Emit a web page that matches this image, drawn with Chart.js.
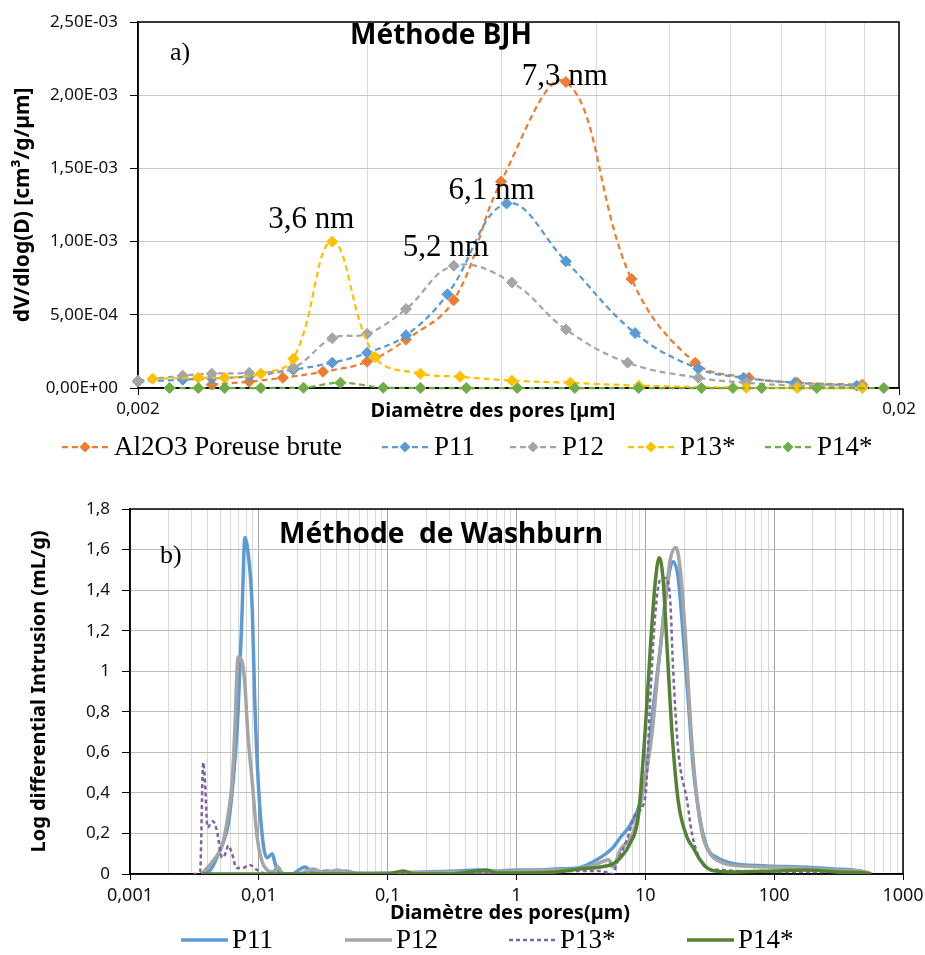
<!DOCTYPE html>
<html>
<head>
<meta charset="utf-8">
<script src="https://cdn.jsdelivr.net/npm/chart.js@4.4.1/dist/chart.umd.min.js"></script>
<style>
  html, body { margin: 0; padding: 0; background: #fff; }
  #wrap { position: relative; width: 925px; height: 955px; }
  .box { position: absolute; left: 0; width: 925px; }
  #boxA { top: 0; height: 470px; }
  #boxB { top: 470px; height: 485px; }
</style>
</head>
<body>
<div id="wrap">
  <div class="box" id="boxA"><canvas id="bjhChart"></canvas></div>
  <div class="box" id="boxB"><canvas id="washChart"></canvas></div>
</div>
<script>
// ---------- a) Méthode BJH : diameter (µm) / dV/dlog(D) (cm3/g/µm)
const bjhAl2O3D = [0.0025, 0.0028, 0.0031, 0.0035, 0.004, 0.0045, 0.0052, 0.006, 0.0073, 0.0089, 0.0108, 0.0127, 0.0147, 0.0179];
const bjhAl2O3V = [2.3e-5, 4.3e-5, 7.0e-5, 1.11e-4, 1.8e-4, 3.3e-4, 6.0e-4, 1.41e-3, 2.09e-3, 7.45e-4, 1.73e-4, 7.0e-5, 3.6e-5, 2.3e-5];

const bjhP11D = [0.002, 0.00229, 0.0025, 0.0028, 0.0032, 0.0036, 0.004, 0.0045, 0.0051, 0.0061, 0.0073, 0.009, 0.0109, 0.0125, 0.0146, 0.0176];
const bjhP11V = [4.3e-5, 5.7e-5, 6.5e-5, 8.0e-5, 1.25e-4, 1.73e-4, 2.4e-4, 3.6e-4, 6.4e-4, 1.26e-3, 8.65e-4, 3.75e-4, 1.32e-4, 7.0e-5, 3.6e-5, 1.6e-5];

const bjhP12D = [0.002, 0.00229, 0.0025, 0.0028, 0.0032, 0.0036, 0.004, 0.0045, 0.0052, 0.0062, 0.0073, 0.0088, 0.0109, 0.0126, 0.0147, 0.0179];
const bjhP12V = [5.0e-5, 8.4e-5, 9.8e-5, 1.04e-4, 1.4e-4, 3.4e-4, 3.7e-4, 5.4e-4, 8.35e-4, 7.2e-4, 4.0e-4, 1.73e-4, 7.0e-5, 3.6e-5, 1.6e-5, 1.0e-5];

const bjhP13D = [0.00209, 0.0024, 0.0026, 0.0029, 0.0032, 0.0036, 0.0041, 0.0047, 0.0053, 0.0062, 0.0074, 0.0091, 0.0126, 0.0147, 0.0179];
const bjhP13V = [6.3e-5, 7.0e-5, 7.0e-5, 9.8e-5, 2.0e-4, 1.0e-3, 2.1e-4, 9.8e-5, 7.7e-5, 5.0e-5, 3.6e-5, 1.6e-5, 2.0e-6, 0, 0];

const bjhP14D = [0.0022, 0.0024, 0.0026, 0.0029, 0.0033, 0.00369, 0.0042, 0.0047, 0.0054, 0.0063, 0.0075, 0.0091, 0.011, 0.0121, 0.0132, 0.0156, 0.0191];
const bjhP14V = [0, 0, 0, 0, 2.0e-6, 3.6e-5, 2.0e-6, 0, 0, 0, 0, 0, 0, 0, 0, 0, 0];

const bjhGridD = [0.002, 0.004, 0.006, 0.008, 0.01, 0.012, 0.014, 0.016, 0.018, 0.02];
const bjhPeakTexts = ['7,3 nm', '6,1 nm', '5,2 nm', '3,6 nm'];

// ---------- b) Méthode de Washburn : diameter (µm) / log differential intrusion (mL/g)
const washP11D = [0.0036, 0.0042, 0.005, 0.0058, 0.0063, 0.0069, 0.0074, 0.0078, 0.0082, 0.0089, 0.0093, 0.0099, 0.0108, 0.0116, 0.0127, 0.0134, 0.0143, 0.018, 0.0228, 0.027, 0.034, 0.04, 0.047, 0.06, 0.1, 0.2, 0.35, 0.5, 0.7, 1.0, 1.5, 2, 3, 4.2, 5.6, 6.4, 7.6, 9.1, 10.3, 11.5, 13, 14.3, 15.6, 16.4, 18, 19.6, 21.5, 23.5, 26.6, 30.2, 36.1, 45.5, 88, 160, 290, 460, 560];
const washP11V = [0.005, 0.02, 0.12, 0.25, 0.45, 0.8, 1.28, 1.66, 1.6, 1.3, 0.85, 0.45, 0.15, 0.08, 0.1, 0.05, 0.01, 0.0, 0.035, 0.005, 0.015, 0.005, 0.015, 0.0, 0.005, 0.01, 0.015, 0.02, 0.015, 0.02, 0.02, 0.025, 0.03, 0.07, 0.13, 0.18, 0.24, 0.35, 0.53, 0.82, 1.1, 1.35, 1.51, 1.54, 1.46, 1.19, 0.86, 0.53, 0.27, 0.13, 0.08, 0.055, 0.04, 0.035, 0.025, 0.015, 0.0];

const washP12D = [0.0036, 0.0041, 0.0046, 0.0052, 0.0058, 0.0062, 0.0065, 0.0069, 0.0074, 0.0078, 0.0082, 0.0089, 0.0097, 0.0106, 0.0116, 0.0128, 0.0141, 0.0154, 0.02, 0.0264, 0.032, 0.041, 0.05, 0.1, 0.3, 0.6, 1, 2, 3, 4.2, 5.2, 5.6, 6.4, 8, 9.6, 11.3, 12.6, 14.3, 15.6, 17.3, 18.6, 20.4, 22.3, 24.4, 27.6, 31.9, 38.1, 45.5, 88, 160, 290, 465, 556];
const washP12V = [0.0, 0.04, 0.08, 0.14, 0.3, 0.45, 0.7, 1.07, 1.05, 0.93, 0.7, 0.45, 0.18, 0.06, 0.02, 0.01, 0.035, 0.0, 0.0, 0.025, 0.005, 0.02, 0.005, 0.005, 0.01, 0.01, 0.015, 0.02, 0.025, 0.05, 0.07, 0.035, 0.12, 0.2, 0.41, 0.7, 1.02, 1.35, 1.55, 1.61, 1.51, 1.19, 0.77, 0.45, 0.2, 0.1, 0.06, 0.045, 0.035, 0.03, 0.02, 0.015, 0.005];

const washP13D = [0.0031, 0.0035, 0.0037, 0.0038, 0.004, 0.0044, 0.0047, 0.0052, 0.0055, 0.0058, 0.0062, 0.0067, 0.0075, 0.0085, 0.0097, 0.0116, 0.1, 0.13, 0.2, 0.5, 1, 2, 3, 4.5, 5.6, 6, 7.2, 8.5, 10, 10.9, 11.9, 13, 14.3, 15.6, 16.4, 18, 21.1, 23, 26.6, 30, 38, 100, 300, 500];
const washP13V = [0.0, 0.01, 0.55, 0.48, 0.23, 0.26, 0.22, 0.08, 0.1, 0.14, 0.1, 0.03, 0.03, 0.045, 0.02, 0.0, 0.0, 0.005, 0.0, 0.005, 0.005, 0.01, 0.015, 0.015, 0.0, 0.05, 0.17, 0.3, 0.38, 0.86, 1.27, 1.45, 1.46, 1.35, 1.02, 0.61, 0.36, 0.2, 0.07, 0.03, 0.02, 0.01, 0.01, 0.005];

const washP14D = [0.0036, 0.01, 0.1, 0.132, 0.16, 0.3, 0.59, 0.7, 1, 2, 3.1, 4.5, 5.6, 6.4, 7.6, 8.8, 9.96, 10.9, 11.9, 12.8, 13.7, 14.8, 16.1, 18, 21.1, 23.5, 26.6, 31.9, 45, 100, 180, 300, 500, 570];
const washP14V = [0.0, 0.0, 0.0, 0.015, 0.0, 0.0, 0.02, 0.005, 0.005, 0.01, 0.025, 0.035, 0.05, 0.08, 0.15, 0.28, 0.7, 1.1, 1.43, 1.56, 1.46, 1.1, 0.7, 0.36, 0.18, 0.13, 0.07, 0.02, 0.01, 0.015, 0.02, 0.01, 0.005, 0.0];

const washDecades = [0.001, 0.01, 0.1, 1, 10, 100];

// ---------- helpers
const SANS = "'Noto Sans', 'DejaVu Sans', sans-serif";
const SERIF = "'Liberation Serif', 'DejaVu Serif', serif";

function toPoints(d, v) {
  return d.map((x, i) => ({ x: x, y: v[i] }));
}

function fmtExp(v) {
  const parts = v.toExponential(2).split('e');
  const n = parseInt(parts[1], 10);
  return parts[0].replace('.', ',') + 'E' + (n < 0 ? '-' : '+') + String(Math.abs(n)).padStart(2, '0');
}

function isDecade(v) {
  const l = Math.log10(v);
  return Math.abs(l - Math.round(l)) < 1e-9;
}

function decimalComma(v) {
  return String(+v.toFixed(6)).replace('.', ',');
}

/**
 * Plot area frame (black box), drawn under the series like Excel
 */
const framePlugin = {
  id: 'frame',
  beforeDatasetsDraw(chart) {
    const { ctx, chartArea: a } = chart;
    ctx.save();
    ctx.strokeStyle = '#000';
    ctx.lineWidth = 1.5;
    ctx.strokeRect(a.left, a.top, a.right - a.left, a.bottom - a.top);
    ctx.restore();
  }
};

/**
 * Free texts and custom legend
 */
const decorPlugin = {
  id: 'decor',
  afterDraw(chart, args, opts) {
    const ctx = chart.ctx;
    ctx.save();
    (opts.texts || []).forEach(t => {
      ctx.font = t.font;
      ctx.fillStyle = '#000';
      ctx.textAlign = t.align || 'center';
      ctx.textBaseline = 'middle';
      ctx.fillText(t.text, t.x, t.y);
    });

    // labels sitting on peaks
    (opts.peaks || []).forEach(p => {
      const data = chart.data.datasets[p.dataset].data;
      let best = data[0];
      data.forEach(pt => { if (pt.y > best.y) best = pt; });
      const px = chart.scales.x.getPixelForValue(best.x);
      const py = chart.scales.y.getPixelForValue(best.y);
      ctx.font = p.font;
      ctx.fillStyle = '#000';
      ctx.textAlign = 'center';
      ctx.textBaseline = 'middle';
      ctx.fillText(p.text, px + p.dx, py + p.dy);
    });

    // legend
    const lg = opts.legend;
    if (lg) {
      chart.data.datasets.forEach((ds, i) => {
        const x0 = lg.starts[i];
        const y = lg.y;
        ctx.save();
        ctx.strokeStyle = ds.borderColor;
        ctx.lineWidth = ds.borderWidth;
        ctx.setLineDash(ds.borderDash || []);
        ctx.beginPath();
        ctx.moveTo(x0, y);
        ctx.lineTo(x0 + lg.lineLen, y);
        ctx.stroke();
        ctx.restore();
        if (ds.pointRadius > 0) {
          const r = ds.pointRadius;
          const cx = x0 + lg.lineLen / 2;
          ctx.fillStyle = ds.borderColor;
          ctx.beginPath();
          ctx.moveTo(cx, y - r);
          ctx.lineTo(cx + r, y);
          ctx.lineTo(cx, y + r);
          ctx.lineTo(cx - r, y);
          ctx.closePath();
          ctx.fill();
        }
        ctx.font = lg.font;
        ctx.fillStyle = '#000';
        ctx.textAlign = 'left';
        ctx.textBaseline = 'middle';
        ctx.fillText(ds.label, x0 + lg.lineLen + lg.gap, y + 1);
      });
    }
    ctx.restore();
  }
};

// ---------- chart a) BJH
const bjhSeries = [
  { label: 'Al2O3 Poreuse brute', d: bjhAl2O3D, v: bjhAl2O3V, color: '#ED7D31' },
  { label: 'P11', d: bjhP11D, v: bjhP11V, color: '#5B9BD5' },
  { label: 'P12', d: bjhP12D, v: bjhP12V, color: '#A5A5A5' },
  { label: 'P13*', d: bjhP13D, v: bjhP13V, color: '#FFC000' },
  { label: 'P14*', d: bjhP14D, v: bjhP14V, color: '#70AD47' }
];

new Chart(document.getElementById('bjhChart'), {
  type: 'scatter',
  data: {
    datasets: bjhSeries.map((s, i) => ({
      label: s.label,
      data: toPoints(s.d, s.v),
      showLine: true,
      borderColor: s.color,
      backgroundColor: s.color,
      borderWidth: 2.25,
      borderDash: [6, 4],
      tension: 0.4,
      pointStyle: 'rectRot',
      pointRadius: 5.5,
      pointBackgroundColor: s.color,
      pointBorderColor: s.color,
      pointBorderWidth: 1,
      clip: 8,
      order: bjhSeries.length - i
    }))
  },
  options: {
    responsive: true,
    maintainAspectRatio: false,
    animation: false,
    layout: { padding: { left: 0, right: 26, top: 22, bottom: 0 } },
    plugins: {
      legend: { display: false },
      tooltip: { enabled: false },
      decor: {
        texts: [
          { text: 'Méthode BJH', x: 441, y: 36, font: `bold 28px ${SANS}` },
          { text: 'a)', x: 170, y: 53, font: `26px ${SERIF}`, align: 'left' },
          { text: 'Diamètre des pores [µm]', x: 493, y: 411, font: `bold 20px ${SANS}` }
        ],
        peaks: [
          { dataset: 0, text: bjhPeakTexts[0], dx: -1, dy: -5, font: `31px ${SERIF}` },
          { dataset: 1, text: bjhPeakTexts[1], dx: -15, dy: -13, font: `31px ${SERIF}` },
          { dataset: 2, text: bjhPeakTexts[2], dx: -8, dy: -18, font: `31px ${SERIF}` },
          { dataset: 3, text: bjhPeakTexts[3], dx: -21, dy: -22, font: `31px ${SERIF}` }
        ],
        legend: { y: 447, starts: [62, 382, 510, 628, 765], lineLen: 46, gap: 6, font: `27px ${SERIF}` }
      }
    },
    scales: {
      x: {
        type: 'logarithmic',
        min: 0.002,
        max: 0.02,
        afterBuildTicks: scale => { scale.ticks = bjhGridD.map(v => ({ value: v })); },
        afterFit: scale => { scale.height = 82; scale.paddingLeft = 0; scale.paddingRight = 0; },
        ticks: {
          autoSkip: false,
          maxRotation: 0,
          padding: 4,
          color: '#111',
          font: { family: SANS, size: 17 },
          callback: v => (Math.abs(v - 0.002) < 1e-9 ? '0,002' : Math.abs(v - 0.02) < 1e-9 ? '0,02' : '')
        },
        grid: {
          color: '#d9d9d9',
          tickLength: 7,
          tickColor: ctx => (ctx.tick && (Math.abs(ctx.tick.value - 0.002) < 1e-9 || Math.abs(ctx.tick.value - 0.02) < 1e-9) ? '#000' : 'rgba(0,0,0,0)')
        },
        border: { color: '#000', width: 1.5 }
      },
      y: {
        min: 0,
        max: 0.0025,
        afterFit: scale => { scale.width = 138; scale.paddingTop = 0; scale.paddingBottom = 0; },
        ticks: {
          stepSize: 0.0005,
          padding: 12,
          color: '#111',
          font: { family: SANS, size: 17 },
          callback: v => fmtExp(v)
        },
        grid: { color: '#c8c8c8', tickLength: 8, tickColor: '#000' },
        border: { color: '#000', width: 1.5 },
        title: {
          display: true,
          text: 'dV/dlog(D) [cm³/g/µm]',
          color: '#000',
          font: { family: SANS, size: 21, weight: 'bold' },
          padding: { top: 10, bottom: 0 }
        }
      }
    }
  },
  plugins: [framePlugin, decorPlugin]
});

// ---------- chart b) Washburn
const washSeries = [
  { label: 'P11', d: washP11D, v: washP11V, color: '#5B9BD5', width: 3.5, dash: [] },
  { label: 'P12', d: washP12D, v: washP12V, color: '#A5A5A5', width: 3.5, dash: [] },
  { label: 'P13*', d: washP13D, v: washP13V, color: '#8064A2', width: 2.5, dash: [4, 3] },
  { label: 'P14*', d: washP14D, v: washP14V, color: '#548235', width: 3.5, dash: [] }
];

const washGridD = [];
washDecades.forEach(dec => {
  for (let m = 1; m <= 9; m++) washGridD.push(+(m * dec).toPrecision(6));
});
washGridD.push(1000);

new Chart(document.getElementById('washChart'), {
  type: 'scatter',
  data: {
    datasets: washSeries.map((s, i) => ({
      label: s.label,
      data: toPoints(s.d, s.v),
      showLine: true,
      borderColor: s.color,
      backgroundColor: s.color,
      borderWidth: s.width,
      borderDash: s.dash,
      borderJoinStyle: 'round',
      cubicInterpolationMode: 'monotone',
      pointRadius: 0,
      order: washSeries.length - i
    }))
  },
  options: {
    responsive: true,
    maintainAspectRatio: false,
    animation: false,
    layout: { padding: { left: 0, right: 22, top: 39, bottom: 0 } },
    plugins: {
      legend: { display: false },
      tooltip: { enabled: false },
      decor: {
        texts: [
          { text: 'Méthode  de Washburn', x: 441, y: 65, font: `bold 28px ${SANS}` },
          { text: 'b)', x: 160, y: 86, font: `26px ${SERIF}`, align: 'left' },
          { text: 'Diamètre des pores(µm)', x: 510, y: 443, font: `bold 20px ${SANS}` }
        ],
        legend: { y: 470, starts: [181, 345, 509, 687], lineLen: 47, gap: 4, font: `27px ${SERIF}` }
      }
    },
    scales: {
      x: {
        type: 'logarithmic',
        min: 0.001,
        max: 1000,
        afterBuildTicks: scale => { scale.ticks = washGridD.map(v => ({ value: v })); },
        afterFit: scale => { scale.height = 81; scale.paddingLeft = 0; scale.paddingRight = 0; },
        ticks: {
          autoSkip: false,
          maxRotation: 0,
          padding: 5,
          color: '#111',
          font: { family: SANS, size: 18 },
          callback: v => (isDecade(v) ? decimalComma(v) : '')
        },
        grid: {
          color: ctx => (ctx.tick && isDecade(ctx.tick.value) ? '#a6a6a6' : '#d9d9d9'),
          tickLength: 6,
          tickColor: ctx => (ctx.tick && isDecade(ctx.tick.value) ? '#000' : 'rgba(0,0,0,0)')
        },
        border: { color: '#000', width: 1.5 }
      },
      y: {
        min: 0,
        max: 1.8,
        afterFit: scale => { scale.width = 130; scale.paddingTop = 0; scale.paddingBottom = 0; },
        ticks: {
          stepSize: 0.2,
          padding: 12,
          color: '#111',
          font: { family: SANS, size: 17 },
          callback: v => decimalComma(v)
        },
        grid: { color: '#bfbfbf', tickLength: 8, tickColor: '#000' },
        border: { color: '#000', width: 1.5 },
        title: {
          display: true,
          text: 'Log differential Intrusion (mL/g)',
          color: '#000',
          font: { family: SANS, size: 20, weight: 'bold' },
          padding: { top: 27, bottom: 0 }
        }
      }
    }
  },
  plugins: [framePlugin, decorPlugin]
});
</script>
</body>
</html>
